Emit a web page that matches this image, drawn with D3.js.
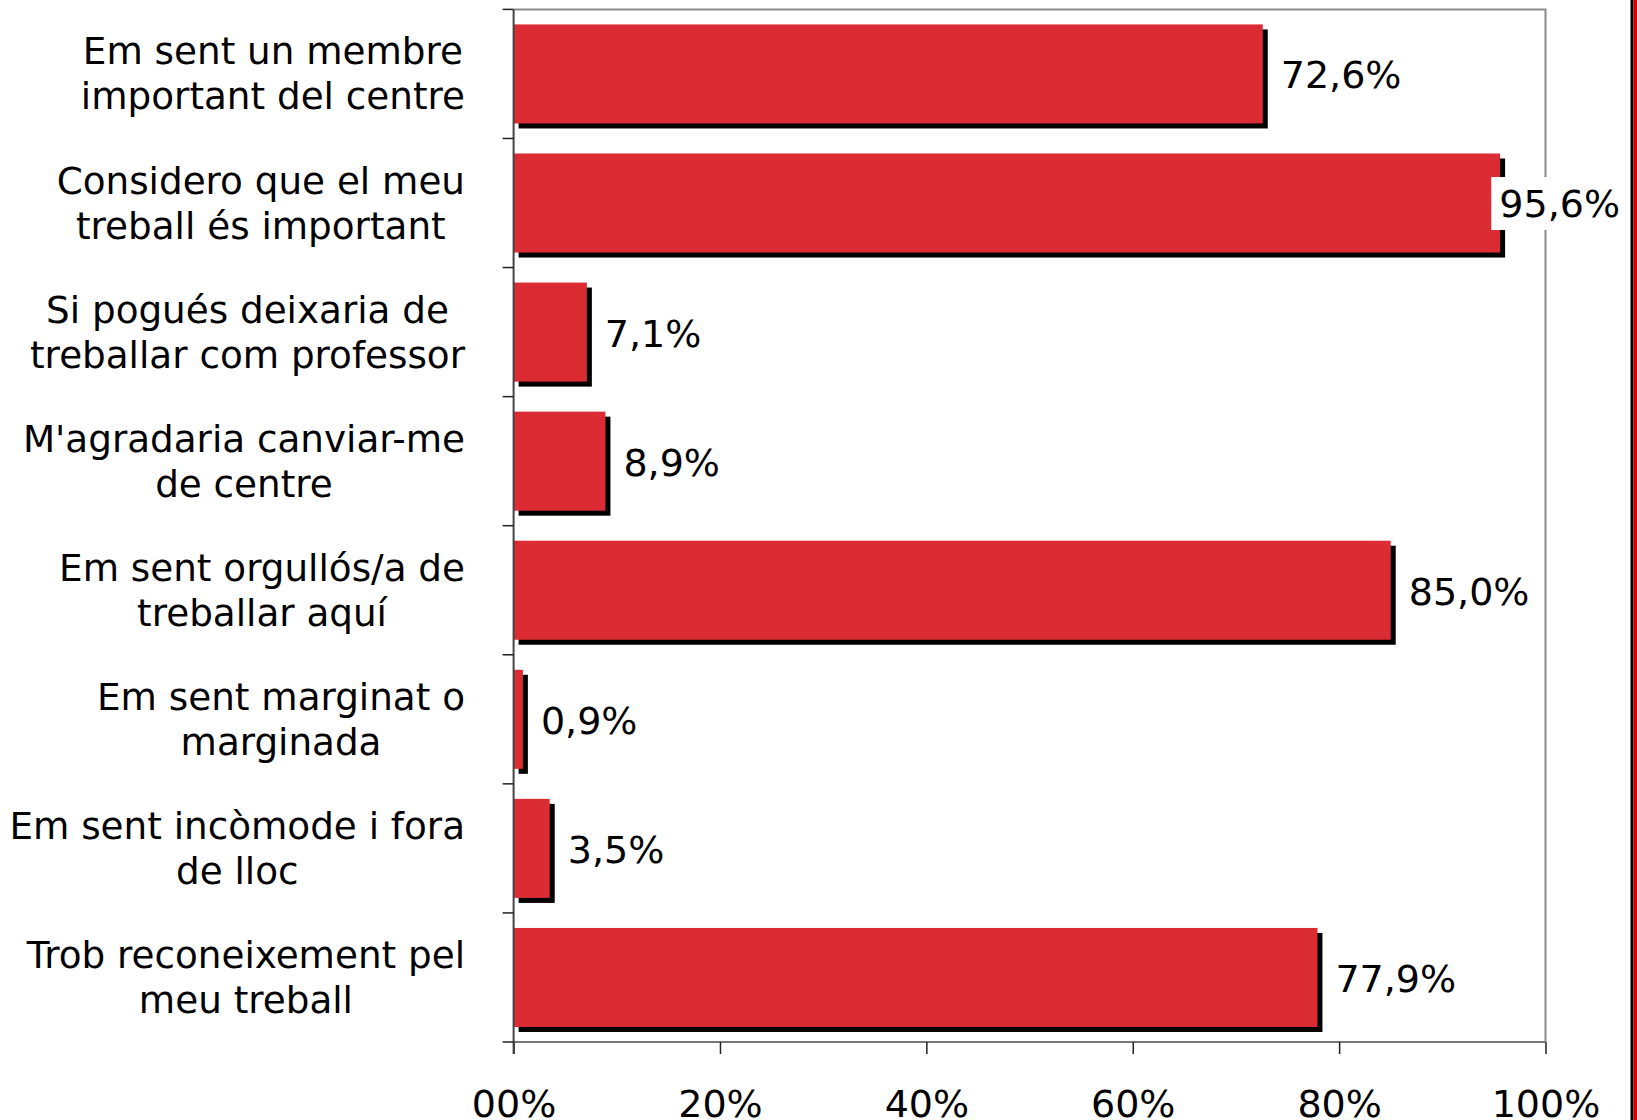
<!DOCTYPE html>
<html>
<head>
<meta charset="utf-8">
<script src="https://cdn.jsdelivr.net/npm/d3@7"></script>
<style>
  body { margin: 0; background: #fff; }
  text { font-family: "DejaVu Sans", Verdana, sans-serif; font-size: 38px; fill: #000; }
  text.cat { font-size: 37.3px; }
</style>
</head>
<body>
<script>
// categories, two lines each
var categories = [
    ["Em sent un membre", "important del centre"],
    ["Considero que el meu", "treball és important"],
    ["Si pogués deixaria de", "treballar com professor"],
    ["M'agradaria canviar-me", "de centre"],
    ["Em sent orgullós/a de", "treballar aquí"],
    ["Em sent marginat o", "marginada"],
    ["Em sent incòmode i fora", "de lloc"],
    ["Trob reconeixement pel", "meu treball"]
];
var values = [72.6, 95.6, 7.1, 8.9, 85.0, 0.9, 3.5, 77.9];
var tickValues = [0, 20, 40, 60, 80, 100];
var tickLabels = ["00%", "20%", "40%", "60%", "80%", "100%"];

var width = 1637,
    height = 1120,
    plotLeft = 513.6,
    plotRight = 1545.5,
    plotTop = 9.4,
    plotBottom = 1042,
    labelRight = 465,
    red = "#dc2c33";

var svg = d3.select("body").append("svg")
    .attr("width", width)
    .attr("height", height);

var x = d3.scaleLinear().domain([0, 100]).range([plotLeft, plotRight]);
var y = d3.scaleBand()
    .domain(d3.range(categories.length))
    .range([plotTop, plotBottom])
    .paddingInner(0.2326)
    .paddingOuter(0.1163);

// frame: top and right in grey
svg.append("path")
    .attr("d", "M" + plotLeft + "," + plotTop + "H" + plotRight + "V" + plotBottom)
    .attr("fill", "none")
    .attr("stroke", "#8a8a8a")
    .attr("stroke-width", 2);

// shadows then bars
var bars = svg.append("g");
bars.selectAll(".shadow")
    .data(values)
    .enter().append("rect")
    .attr("class", "shadow")
    .attr("x", plotLeft + 5)
    .attr("y", function(d, i) { return y(i) + 5; })
    .attr("width", function(d) { return x(d) - plotLeft; })
    .attr("height", y.bandwidth())
    .attr("fill", "#000");
bars.selectAll(".bar")
    .data(values)
    .enter().append("rect")
    .attr("class", "bar")
    .attr("x", plotLeft)
    .attr("y", function(d, i) { return y(i); })
    .attr("width", function(d) { return x(d) - plotLeft; })
    .attr("height", y.bandwidth())
    .attr("fill", red);

// bottom axis
var xAxis = d3.axisBottom(x)
    .tickValues(tickValues)
    .tickSize(12)
    .tickFormat(function(d, i) { return tickLabels[i]; });
var gx = svg.append("g")
    .attr("transform", "translate(0," + plotBottom + ")")
    .call(xAxis);
gx.select(".domain").attr("stroke", "#777").attr("stroke-width", 2)
    .attr("d", "M" + plotLeft + ",0H" + plotRight);
gx.selectAll(".tick line").attr("stroke", "#222").attr("stroke-width", 1.5);
gx.selectAll(".tick text")
    .attr("y", 75)
    .attr("dy", 0)
    .style("font-size", "38px")
    .style("font-family", "'DejaVu Sans', Verdana, sans-serif")
    .attr("fill", "#000");

// left axis with ticks at band boundaries
var edges = d3.range(categories.length + 1).map(function(i) { return plotTop + i * y.step(); });
svg.append("line")
    .attr("x1", plotLeft).attr("x2", plotLeft)
    .attr("y1", plotTop).attr("y2", plotBottom + 12)
    .attr("stroke", "#444").attr("stroke-width", 2);
svg.selectAll(".ytick")
    .data(edges)
    .enter().append("line")
    .attr("class", "ytick")
    .attr("x1", plotLeft - 11).attr("x2", plotLeft)
    .attr("y1", function(d) { return d; })
    .attr("y2", function(d) { return d; })
    .attr("stroke", "#222").attr("stroke-width", 1.5);

// category labels: centred block, widest line flush at labelRight
var cat = svg.selectAll(".cat")
    .data(categories)
    .enter().append("text")
    .attr("class", "cat")
    .attr("text-anchor", "middle");
cat.each(function(lines, i) {
    var t = d3.select(this);
    var c = y(i) + y.bandwidth() / 2;
    lines.forEach(function(s, j) {
        t.append("tspan").attr("y", c - 23 + j * 45 + 13.5).text(s);
    });
    var w = d3.max(t.selectAll("tspan").nodes(), function(n) { return n.getComputedTextLength(); });
    t.selectAll("tspan").attr("x", labelRight - w / 2);
});

// value labels with white boxes
var vl = svg.selectAll(".val")
    .data(values)
    .enter().append("g")
    .attr("class", "val");
vl.each(function(d, i) {
    var g = d3.select(this);
    var c = y(i) + y.bandwidth() / 2;
    var box = g.append("rect").attr("fill", "#fff");
    var t = g.append("text")
        .attr("y", c)
        .attr("dy", "0.38em")
        .text(d.toFixed(1).replace(".", ",") + "%");
    var w = t.node().getComputedTextLength();
    var tx = Math.min(x(d) + 18, 1620 - w);
    t.attr("x", tx);
    box.attr("x", tx - 8).attr("y", c - 26).attr("width", w + 16).attr("height", 53);
});

// outer frame on the right edge
svg.append("rect").attr("x", 1630.5).attr("y", 0).attr("width", 3).attr("height", height).attr("fill", "#000");
svg.append("rect").attr("x", 1633.5).attr("y", 0).attr("width", 3.5).attr("height", height).attr("fill", "#d00");
</script>
</body>
</html>
